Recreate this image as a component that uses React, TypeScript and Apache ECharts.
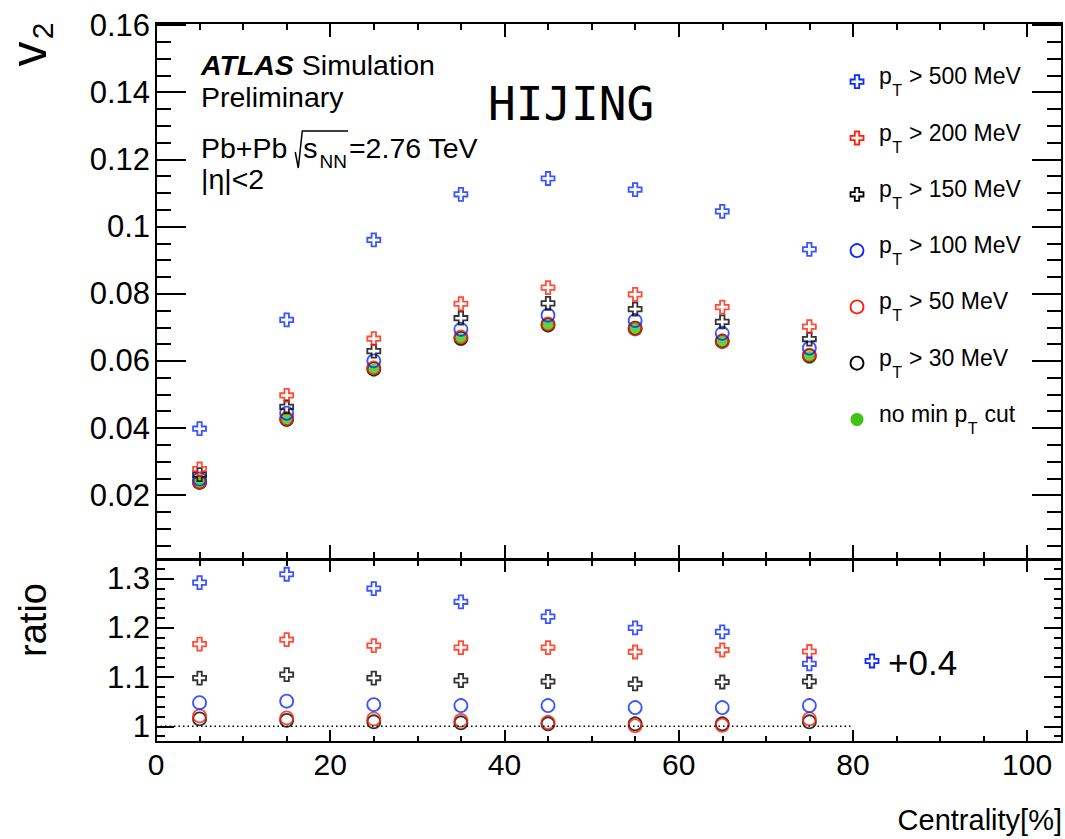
import React, { useEffect, useRef } from 'react';
import * as echarts from 'echarts';

// ---------------- data ----------------
const centrality = [5, 15, 25, 35, 45, 55, 65, 75];

const v2Pt500 = [0.0398, 0.0722, 0.096, 0.1096, 0.1143, 0.111, 0.1045, 0.0932];
const v2Pt200 = [0.0278, 0.0497, 0.0666, 0.077, 0.0818, 0.0798, 0.076, 0.0702];
const v2Pt150 = [0.0261, 0.0463, 0.0629, 0.0727, 0.0771, 0.0754, 0.0716, 0.0665];
const v2Pt100 = [0.0248, 0.0444, 0.06, 0.0694, 0.0736, 0.072, 0.0682, 0.0638];
const v2Pt50 = [0.0239, 0.0428, 0.0579, 0.0671, 0.071, 0.0695, 0.0657, 0.0617];
const v2Pt30 = [0.0238, 0.0426, 0.0576, 0.0667, 0.0707, 0.0697, 0.0659, 0.0615];
const v2NoCut = [0.0236, 0.0423, 0.0572, 0.0663, 0.0704, 0.0694, 0.0656, 0.061];

// ratio to "no min pT cut" (pT>500 shown shifted down by 0.4, as plotted)
const ratioPt500Shifted = [1.292, 1.309, 1.28, 1.253, 1.223, 1.2, 1.192, 1.127];
const ratioPt200 = [1.167, 1.176, 1.164, 1.16, 1.16, 1.151, 1.155, 1.152];
const ratioPt150 = [1.098, 1.105, 1.098, 1.093, 1.091, 1.086, 1.09, 1.091];
const ratioPt100 = [1.048, 1.051, 1.044, 1.042, 1.042, 1.038, 1.038, 1.042];
const ratioPt50 = [1.021, 1.017, 1.015, 1.012, 1.008, 1.001, 1.002, 1.015];
const ratioPt30 = [1.015, 1.012, 1.009, 1.007, 1.005, 1.005, 1.005, 1.009];

const refLineX = [0, 80];
const refLineY = 1;

// axes
const X_MIN = 0;
const X_MAX = 104;
const xMajorTicks = [0, 20, 40, 60, 80, 100];
const xMinorTicks = [5, 10, 15, 25, 30, 35, 45, 50, 55, 65, 70, 75, 85, 90, 95];
const xTickLabels = [0, 20, 40, 60, 80, 100];

const V2_MIN = 0.001;
const V2_MAX = 0.1606;
const v2MajorTicks = [0.02, 0.04, 0.06, 0.08, 0.1, 0.12, 0.14, 0.16];
const v2MinorTicks = [
  0.005, 0.01, 0.015, 0.025, 0.03, 0.035, 0.045, 0.05, 0.055, 0.065, 0.07, 0.075,
  0.085, 0.09, 0.095, 0.105, 0.11, 0.115, 0.125, 0.13, 0.135, 0.145, 0.15, 0.155,
];
const v2TickLabels = [0.02, 0.04, 0.06, 0.08, 0.1, 0.12, 0.14, 0.16];

const R_MIN = 0.968;
const R_MAX = 1.338;
const rMajorTicks = [1, 1.1, 1.2, 1.3];
const rMinorTicks = [0.98, 1.02, 1.04, 1.06, 1.08, 1.12, 1.14, 1.16, 1.18, 1.22, 1.24, 1.26, 1.28, 1.32];
const rTickLabels = [1, 1.1, 1.2, 1.3];

// ---------------- style ----------------
const FONT = '"Liberation Sans", Arial, Helvetica, sans-serif';
const BLUE = '#0a2aff';
const RED = '#ff2008';
const BLACK = '#000000';
const GREEN = '#40c414';
const CROSS = 'path://M3.3,0H6.7V3.3H10V6.7H6.7V10H3.3V6.7H0V3.3H3.3Z';
const MS = 13;
const LW = 1.8;

const SERIES_DEF = [
  { key: 'nocut', color: GREEN, shape: 'filled', pre: 'no min p', post: ' cut' },
  { key: 'pt30', color: BLACK, shape: 'circle', pre: 'p', post: ' > 30 MeV' },
  { key: 'pt50', color: RED, shape: 'circle', pre: 'p', post: ' > 50 MeV' },
  { key: 'pt100', color: BLUE, shape: 'circle', pre: 'p', post: ' > 100 MeV' },
  { key: 'pt150', color: BLACK, shape: 'cross', pre: 'p', post: ' > 150 MeV' },
  { key: 'pt200', color: RED, shape: 'cross', pre: 'p', post: ' > 200 MeV' },
  { key: 'pt500', color: BLUE, shape: 'cross', pre: 'p', post: ' > 500 MeV' },
];
const LEGEND_ORDER = ['pt500', 'pt200', 'pt150', 'pt100', 'pt50', 'pt30', 'nocut'];

const topData: Record<string, number[]> = {
  nocut: v2NoCut, pt30: v2Pt30, pt50: v2Pt50, pt100: v2Pt100, pt150: v2Pt150, pt200: v2Pt200, pt500: v2Pt500,
};
const bottomData: Record<string, number[]> = {
  pt30: ratioPt30, pt50: ratioPt50, pt100: ratioPt100, pt150: ratioPt150, pt200: ratioPt200, pt500: ratioPt500Shifted,
};

function measure(text: string, size: number, family = '"Liberation Sans"') {
  const ctx = document.createElement('canvas').getContext('2d')!;
  ctx.font = `${size}px ${family}`;
  return ctx.measureText(text).width;
}

function itemStyleFor(d: any) {
  if (d.shape === 'filled') return { color: d.color, borderWidth: 0 };
  return { color: 'rgba(0,0,0,0)', borderColor: d.color, borderWidth: LW };
}

function crossPoints(cx: number, cy: number, s: number) {
  const h = s / 2;
  const a = s * 0.17;
  return [
    [cx - a, cy - h], [cx + a, cy - h], [cx + a, cy - a], [cx + h, cy - a], [cx + h, cy + a], [cx + a, cy + a],
    [cx + a, cy + h], [cx - a, cy + h], [cx - a, cy + a], [cx - h, cy + a], [cx - h, cy - a], [cx - a, cy - a],
  ];
}

function markerGraphic(shape: string, color: string, cx: number, cy: number, s: number) {
  if (shape === 'cross') {
    return { type: 'polygon', shape: { points: crossPoints(cx, cy, s) }, style: { fill: 'none', stroke: color, lineWidth: LW } };
  }
  if (shape === 'circle') {
    return { type: 'circle', shape: { cx, cy, r: s / 2 }, style: { fill: 'none', stroke: color, lineWidth: LW } };
  }
  return { type: 'circle', shape: { cx, cy, r: s / 2 }, style: { fill: color } };
}

function txt(text: string, x: number, y: number, size: number, extra: any = {}) {
  return {
    type: 'text',
    x,
    y,
    style: {
      text,
      fontFamily: FONT,
      fontSize: size,
      fill: '#000',
      align: 'left',
      verticalAlign: 'middle',
      ...extra,
    },
  };
}

function xAxisDef(grid: number, pos: string, ticks: number[], len: number, labels?: number[]) {
  return {
    type: 'value',
    gridIndex: grid,
    position: pos,
    min: X_MIN,
    max: X_MAX,
    axisLine: { show: false, onZero: false },
    axisTick: { show: true, inside: true, length: len, customValues: ticks, lineStyle: { color: '#000', width: 2 } },
    axisLabel: labels
      ? { show: true, customValues: labels, margin: 7, color: '#000', fontFamily: FONT, fontSize: 30, formatter: (v: number) => String(v) }
      : { show: false },
    splitLine: { show: false },
    minorTick: { show: false },
    minorSplitLine: { show: false },
  };
}

function yAxisDef(grid: number, pos: string, min: number, max: number, ticks: number[], len: number, labels?: number[]) {
  return {
    type: 'value',
    gridIndex: grid,
    position: pos,
    min,
    max,
    axisLine: { show: false, onZero: false },
    axisTick: { show: true, inside: true, length: len, customValues: ticks, lineStyle: { color: '#000', width: 2 } },
    axisLabel: labels
      ? {
          show: true,
          customValues: labels,
          margin: 6,
          color: '#000',
          fontFamily: FONT,
          fontSize: 31,
          showMinLabel: true,
          showMaxLabel: true,
          formatter: (v: number) => String(Number(v.toFixed(3))),
        }
      : { show: false },
    splitLine: { show: false },
    minorTick: { show: false },
    minorSplitLine: { show: false },
  };
}

export default function App() {
  const ref = useRef<HTMLDivElement>(null);

  useEffect(() => {
    document.body.style.margin = '0';
    if (!ref.current) return;
    const chart = echarts.init(ref.current, undefined, { renderer: 'svg' });

    const series: any[] = [];
    SERIES_DEF.forEach((d) => {
      series.push({
        type: 'scatter',
        name: 'top-' + d.key,
        xAxisIndex: 0,
        yAxisIndex: 0,
        symbol: d.shape === 'cross' ? CROSS : 'circle',
        symbolSize: MS,
        itemStyle: itemStyleFor(d),
        data: centrality.map((c, i) => [c, topData[d.key][i]]),
        silent: true,
      });
    });
    series.push({
      type: 'line',
      name: 'ref',
      xAxisIndex: 4,
      yAxisIndex: 4,
      symbol: 'none',
      lineStyle: { color: '#000', width: 1.5, type: [1.5, 3] },
      data: refLineX.map((x) => [x, refLineY]),
      silent: true,
    });
    SERIES_DEF.filter((d) => bottomData[d.key]).forEach((d) => {
      series.push({
        type: 'scatter',
        name: 'bot-' + d.key,
        xAxisIndex: 4,
        yAxisIndex: 4,
        symbol: d.shape === 'cross' ? CROSS : 'circle',
        symbolSize: MS,
        itemStyle: itemStyleFor(d),
        data: centrality.map((c, i) => [c, bottomData[d.key][i]]),
        silent: true,
      });
    });

    // ---------- graphic annotations ----------
    const g: any[] = [];
    // axis titles
    g.push({ type: 'text', x: 29, y: 54, rotation: Math.PI / 2, style: { text: 'v', fontFamily: FONT, fontSize: 50, fill: '#000', align: 'center', verticalAlign: 'middle' } });
    g.push({ type: 'text', x: 42, y: 31, rotation: Math.PI / 2, style: { text: '2', fontFamily: FONT, fontSize: 30, fill: '#000', align: 'center', verticalAlign: 'middle' } });
    g.push({ type: 'text', x: 33, y: 620, rotation: Math.PI / 2, style: { text: 'ratio', fontFamily: FONT, fontSize: 38, fill: '#000', align: 'center', verticalAlign: 'middle' } });
    g.push(txt('Centrality[%]', 1062, 820, 29, { align: 'right' }));

    // ATLAS label
    g.push({
      type: 'text',
      x: 201,
      y: 65,
      style: {
        text: '{b|ATLAS} Simulation',
        fontFamily: FONT,
        fontSize: 28.5,
        fill: '#000',
        verticalAlign: 'middle',
        rich: { b: { fontFamily: FONT, fontSize: 28.5, fontWeight: 'bold', fontStyle: 'italic', fill: '#000' } },
      },
    });
    g.push(txt('Preliminary', 201, 97, 28.5));
    // Pb+Pb sqrt(sNN)
    const x0 = 201;
    const sqrtX = x0 + measure('Pb+Pb ', 28.5);
    g.push(txt('Pb+Pb', x0, 148, 28.5));
    const sX = sqrtX + 8;
    const nnX = sX + measure('s', 28.5) + 2;
    const eqX = nnX + measure('NN', 19) + 2;
    g.push({
      type: 'polyline',
      shape: { points: [[sqrtX, 152], [sqrtX + 3, 168], [sqrtX + 7, 131], [eqX - 1, 131]] },
      style: { stroke: '#000', lineWidth: 1.5, fill: 'none' },
    });
    g.push(txt('s', sX, 148, 28.5));
    g.push(txt('NN', nnX, 161.5, 19));
    g.push(txt('=2.76 TeV', eqX, 148, 28.5));
    g.push(txt('|η|<2', 201, 179, 28.5));

    // HIJING
    g.push(txt('HIJING', 488, 104, 46, { fontFamily: '"DejaVu Sans Mono", monospace' }));

    // legend
    const legX = 857;
    const legY0 = 81.7;
    const legStep = 56.3;
    LEGEND_ORDER.forEach((key, i) => {
      const d = SERIES_DEF.find((s) => s.key === key)!;
      const cy = legY0 + i * legStep;
      g.push(markerGraphic(d.shape, d.color, legX, cy, 13));
      const tx = 879;
      g.push(txt(d.pre, tx, cy - 5.5, 23));
      const subX = tx + measure(d.pre, 23) + 0.5;
      g.push(txt('T', subX, cy + 9, 16));
      const postX = subX + measure('T', 16) + 0.5;
      g.push(txt(d.post, postX, cy - 5.5, 23));
    });

    // "+0.4" note for shifted series
    g.push(markerGraphic('cross', BLUE, 872, 661, 13));
    g.push(txt('+0.4', 888, 662.5, 35));

    const option: any = {
      animation: false,
      backgroundColor: '#ffffff',
      grid: [
        { left: 156, top: 23, width: 906, height: 536, show: true, borderColor: '#000', borderWidth: 2, backgroundColor: 'transparent', outerBoundsMode: 'none', containLabel: false },
        { left: 156, top: 560, width: 906, height: 182, show: true, borderColor: '#000', borderWidth: 2, backgroundColor: 'transparent', outerBoundsMode: 'none', containLabel: false },
      ],
      xAxis: [
        xAxisDef(0, 'bottom', xMajorTicks, 14),
        xAxisDef(0, 'bottom', xMinorTicks, 7),
        xAxisDef(0, 'top', xMajorTicks, 14),
        xAxisDef(0, 'top', xMinorTicks, 7),
        xAxisDef(1, 'bottom', xMajorTicks, 12, xTickLabels),
        xAxisDef(1, 'bottom', xMinorTicks, 6),
        xAxisDef(1, 'top', xMajorTicks, 12),
        xAxisDef(1, 'top', xMinorTicks, 6),
      ],
      yAxis: [
        yAxisDef(0, 'left', V2_MIN, V2_MAX, v2MajorTicks, 30, v2TickLabels),
        yAxisDef(0, 'left', V2_MIN, V2_MAX, v2MinorTicks, 15),
        yAxisDef(0, 'right', V2_MIN, V2_MAX, v2MajorTicks, 30),
        yAxisDef(0, 'right', V2_MIN, V2_MAX, v2MinorTicks, 15),
        yAxisDef(1, 'left', R_MIN, R_MAX, rMajorTicks, 18, rTickLabels),
        yAxisDef(1, 'left', R_MIN, R_MAX, rMinorTicks, 9),
        yAxisDef(1, 'right', R_MIN, R_MAX, rMajorTicks, 18),
        yAxisDef(1, 'right', R_MIN, R_MAX, rMinorTicks, 8),
      ],
      series,
      graphic: { elements: g },
    };
    chart.setOption(option);
    return () => chart.dispose();
  }, []);

  return <div ref={ref} style={{ width: 1065, height: 839 }} />;
}
